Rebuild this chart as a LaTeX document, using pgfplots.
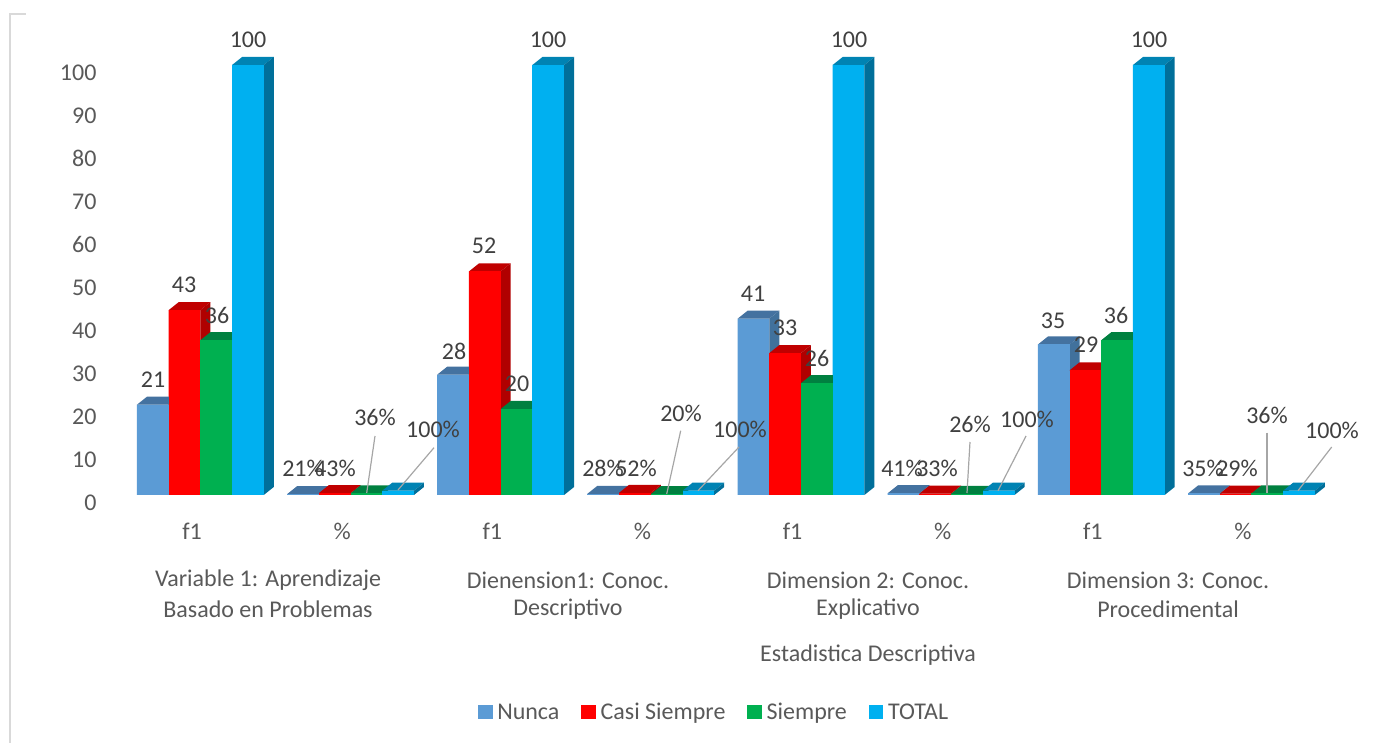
\documentclass[border=0pt]{standalone}
\usepackage{pgfplots}
\usepackage{pgfplotstable}
\usepackage{fontspec}
\setmainfont{Carlito}
\pgfplotsset{compat=1.18}
\definecolor{nA}{HTML}{5B9BD5}\definecolor{nS}{HTML}{41719C}\definecolor{nT}{HTML}{4472A0}
\definecolor{cA}{HTML}{FF0000}\definecolor{cS}{HTML}{B00000}\definecolor{cT}{HTML}{C00000}
\definecolor{sA}{HTML}{00B050}\definecolor{sS}{HTML}{007F3A}\definecolor{sT}{HTML}{008040}
\definecolor{tA}{HTML}{00B0F0}\definecolor{tS}{HTML}{006F9A}\definecolor{tT}{HTML}{0083B3}
\definecolor{lab}{HTML}{404040}\definecolor{axt}{HTML}{595959}
\pgfplotstableread{
x v
0 21
1 0.21
2 28
3 0.28
4 41
5 0.41
6 35
7 0.35
}\nunca
\pgfplotstableread{
x v
0 43
1 0.43
2 52
3 0.52
4 33
5 0.33
6 29
7 0.29
}\casi
\pgfplotstableread{
x v
0 36
1 0.36
2 20
3 0.20
4 26
5 0.26
6 36
7 0.36
}\siempre
\pgfplotstableread{
x v
0 100
1 1
2 100
3 1
4 100
5 1
6 100
7 1
}\total
% 3D faces of a bar, hung from the plotted point
\newcommand\declbox[5]{%
 \pgfdeclareplotmark{#1}{%
  \pgfmathsetmacro\hh{\rawval*4.3}%
  \pgfmathsetmacro\xl{#2-15.85}%
  \pgfmathsetmacro\xr{#2+15.85}%
  \pgfmathsetmacro\xlb{\xl+10}%
  \pgfmathsetmacro\xrb{\xr+10}%
  \pgfsetfillcolor{#4}%
  \pgfpathmoveto{\pgfpoint{\xl pt}{0pt}}%
  \pgfpathlineto{\pgfpoint{\xlb pt}{8pt}}%
  \pgfpathlineto{\pgfpoint{\xrb pt}{8pt}}%
  \pgfpathlineto{\pgfpoint{\xr pt}{0pt}}%
  \pgfpathclose\pgfusepathqfill
  \pgfsetfillcolor{#3}%
  \pgfpathmoveto{\pgfpoint{\xr pt}{0pt}}%
  \pgfpathlineto{\pgfpoint{\xrb pt}{8pt}}%
  \pgfpathlineto{\pgfpoint{\xrb pt}{8pt-\hh pt}}%
  \pgfpathlineto{\pgfpoint{\xr pt}{-\hh pt}}%
  \pgfpathclose\pgfusepathqfill
  \pgfsetfillcolor{#5}%
  \pgfpathmoveto{\pgfpoint{\xl pt}{0pt}}%
  \pgfpathlineto{\pgfpoint{\xr pt}{0pt}}%
  \pgfpathlineto{\pgfpoint{\xr pt}{-\hh pt}}%
  \pgfpathlineto{\pgfpoint{\xl pt}{-\hh pt}}%
  \pgfpathclose\pgfusepathqfill
 }}
\declbox{boxN}{-39.15}{nS}{nT}{nA}
\declbox{boxC}{-7.45}{cS}{cT}{cA}
\declbox{boxS}{24.25}{sS}{sT}{sA}
\declbox{boxT}{55.95}{tS}{tT}{tA}
\newcommand\series[4]{%
 \addplot[ybar,bar width=31.7pt,bar shift=#4pt,fill=#2,draw=none,forget plot]
   table[x=x,y=v]{#1};
 \addplot[only marks,scatter,mark=#3,forget plot,
   visualization depends on={rawy \as \rawval},
   scatter/@pre marker code/.code={},scatter/@post marker code/.code={}]
   table[x=x,y=v]{#1};
}
\newcommand\lab[3]{\node[text=lab,font=\fontsize{\fs}{\fs}\selectfont,inner sep=0pt] at (#1pt,743pt-#2pt) {#3};}
\newcommand\gl[3]{\node[text=axt,font=\fontsize{\fs}{\fs}\selectfont,inner sep=0pt] at (#1pt,743pt-#2pt) {#3};}
\newcommand\lead[4]{\draw[color=black!35,line width=1.2pt] (#1pt,743pt-#2pt) -- (#3pt,743pt-#4pt);}
\def\fs{24}
\begin{document}
\begin{tikzpicture}[x=1pt,y=1pt]
\path[use as bounding box] (0,0) rectangle (1400pt,743pt);
\draw[color=black!15,line width=2pt] (10pt,0pt) -- (10pt,729pt) -- (26pt,729pt);
\begin{axis}[
  at={(120pt,248pt)},anchor=south west,
  scale only axis,width=1220pt,height=430pt,
  clip=false,
  xmin=-0.4795,xmax=7.6456,ymin=0,ymax=100,
  axis line style={draw=none},
  tick style={draw=none},
  major tick length=0pt,
  xtick={0,...,7},xticklabels={f1,\%,f1,\%,f1,\%,f1,\%},
  ytick={0,10,...,100},
  axis x line*=bottom,axis y line*=left,
  /pgf/number format/assume math mode=true,
  tick label style={text=axt,font=\fontsize{\fs}{\fs}\selectfont},
  yticklabel style={xshift=-20pt,yshift=-7.5pt},
  xticklabel style={yshift=-25pt},
  legend columns=4,
  legend style={draw=none,fill=none,at={(0.487,-0.505)},anchor=center,
    font=\fontsize{\fs}{\fs}\selectfont,text=axt,
    /tikz/every even column/.append style={column sep=20pt}},
  legend image code/.code={\fill[#1] (0pt,-6.5pt) rectangle (13.5pt,7pt);\path[draw=none,fill=none] (0pt,0pt) -- (17pt,0pt);},
]
\series{\nunca}{nA}{boxN}{-39.15}
\series{\casi}{cA}{boxC}{-7.45}
\series{\siempre}{sA}{boxS}{24.25}
\series{\total}{tA}{boxT}{55.95}
\addlegendimage{nA}\addlegendentry{Nunca}
\addlegendimage{cA}\addlegendentry{Casi Siempre}
\addlegendimage{sA}\addlegendentry{Siempre}
\addlegendimage{tA}\addlegendentry{TOTAL}
\end{axis}
\lead{375}{436}{366.7}{493}\lead{434}{447.7}{398}{490}
\lead{680.7}{430.7}{666.7}{494}\lead{739}{447}{698}{490.7}
\lead{970}{442}{967}{493}\lead{1026}{436}{998}{490.7}
\lead{1267}{432.7}{1267}{493}\lead{1331.7}{447}{1298}{490.7}
\lab{248}{40}{100}\lab{548}{40}{100}\lab{849}{40}{100}\lab{1149}{40}{100}
\lab{153}{380}{21}\lab{184}{285}{43}\lab{217}{315}{36}
\lab{454}{351}{28}\lab{484}{246}{52}\lab{517}{384}{20}
\lab{753}{294}{41}\lab{785}{328}{33}\lab{817}{358}{26}
\lab{1053}{321}{35}\lab{1086}{345}{29}\lab{1116}{315}{36}
\lab{303}{468}{21\%}\lab{335}{468}{43\%}\lab{375}{417}{36\%}\lab{433}{429}{100\%}
\lab{603}{468}{28\%}\lab{636}{468}{52\%}\lab{681}{413}{20\%}\lab{740}{429}{100\%}
\lab{902}{468}{41\%}\lab{937}{468}{33\%}\lab{970}{424}{26\%}\lab{1027}{419}{100\%}
\lab{1203}{468}{35\%}\lab{1237}{468}{29\%}\lab{1267}{415}{36\%}\lab{1332}{430}{100\%}
\gl{268}{580}{Variable 1: Aprendizaje}\gl{268}{609}{Basado en Problemas}
\gl{568}{580}{Dienension1: Conoc.}\gl{568}{609}{Descriptivo}
\gl{868}{580}{Dimension 2: Conoc.}\gl{868}{609}{Explicativo}
\gl{1168}{580}{Dimension 3: Conoc.}\gl{1168}{609}{Procedimental}
\gl{868}{655}{Estadistica Descriptiva}
\end{tikzpicture}
\end{document}
